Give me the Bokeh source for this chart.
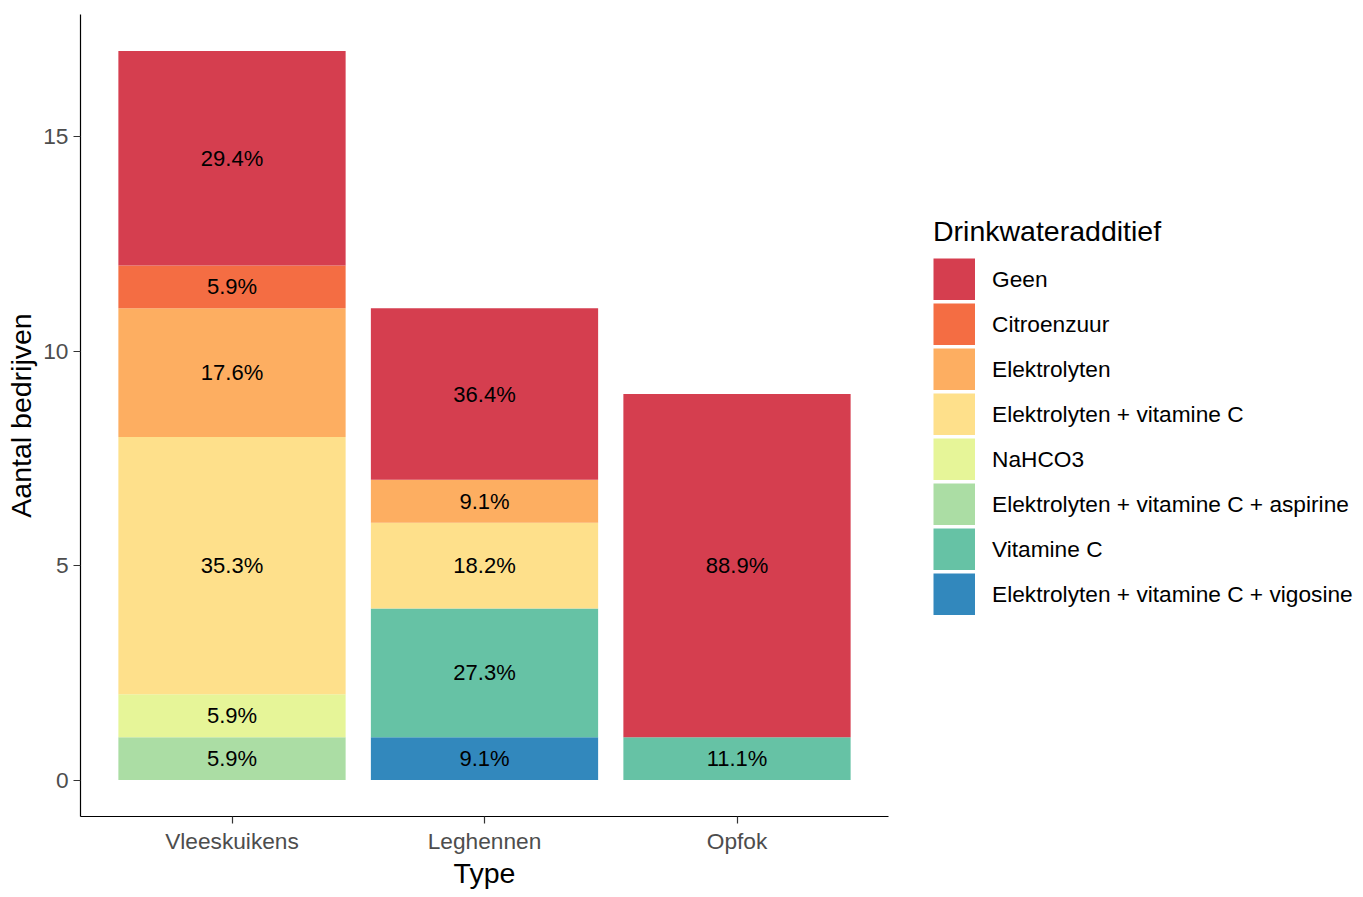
from bokeh.plotting import figure
from bokeh.models import (ColumnDataSource, FactorRange, Range1d, FixedTicker,
                          Legend, LegendItem)
from bokeh.core.properties import value
from bokeh.embed import file_html
from bokeh.resources import INLINE

# ---- data ----
categories = ["Vleeskuikens", "Leghennen", "Opfok"]
additives = ["Geen", "Citroenzuur", "Elektrolyten", "Elektrolyten + vitamine C",
             "NaHCO3", "Elektrolyten + vitamine C + aspirine", "Vitamine C",
             "Elektrolyten + vitamine C + vigosine"]
colors = ["#D53E4F", "#F46D43", "#FDAE61", "#FEE08B",
          "#E6F598", "#ABDDA4", "#66C2A5", "#3288BD"]
geen = [5, 4, 8]
citroenzuur = [1, 0, 0]
elektrolyten = [3, 1, 0]
elektrolyten_vitc = [6, 2, 0]
nahco3 = [1, 0, 0]
elektrolyten_vitc_aspirine = [1, 0, 0]
vitamine_c = [0, 3, 1]
elektrolyten_vitc_vigosine = [0, 1, 0]
y_ticks = [0, 5, 10, 15]

series = [geen, citroenzuur, elektrolyten, elektrolyten_vitc, nahco3,
          elektrolyten_vitc_aspirine, vitamine_c, elektrolyten_vitc_vigosine]
totals = [sum(s[i] for s in series) for i in range(len(categories))]

FONT = "Liberation Sans"
NAN = float("nan")

p = figure(x_range=FactorRange(*categories, range_padding=0.2 / 3),
           y_range=Range1d(-0.85, 17.85),
           frame_width=808, frame_height=802,
           min_border_left=80, min_border_right=459,
           min_border_top=14, min_border_bottom=65,
           output_backend="svg", toolbar_location=None,
           background_fill_color="white", border_fill_color="white")
p.outline_line_color = None
p.xgrid.visible = False
p.ygrid.visible = False

# stacked bars, bottom-up in reverse legend order
bottoms = [0] * len(categories)
legend_keys = {}
lx, ly, lt = [], [], []
for name, vals, col in reversed(list(zip(additives, series, colors))):
    xs, bs, ts = [], [], []
    for i, c in enumerate(categories):
        if vals[i] > 0:
            xs.append(c)
            bs.append(bottoms[i])
            ts.append(bottoms[i] + vals[i])
            lx.append(c)
            ly.append(bottoms[i] + vals[i] / 2)
            lt.append(f"{round(vals[i] / totals[i] * 100, 1):.1f}%")
            bottoms[i] += vals[i]
    src = ColumnDataSource(dict(x=xs, bottom=bs, top=ts))
    p.vbar(x="x", bottom="bottom", top="top", width=0.9, source=src,
           fill_color=col, line_color=None)
    # legend key only (NaN point, nothing drawn in the plot):
    # a very thick butt-capped line renders as a full filled square key
    key = p.line(x=[NAN], y=[NAN], line_color=col, line_width=42,
                 line_cap="butt")
    legend_keys[name] = key

lab = ColumnDataSource(dict(x=lx, y=ly, t=lt))
p.text(x="x", y="y", text="t", source=lab, text_align="center",
       text_baseline="middle", text_font=value(FONT),
       text_font_size="22px", text_color="black")

# axes
for ax in (p.xaxis[0], p.yaxis[0]):
    ax.axis_line_color = "black"
    ax.axis_line_width = 1.2
    ax.major_tick_line_color = "#333333"
    ax.major_tick_line_width = 1.2
    ax.major_tick_out = 7
    ax.major_tick_in = 0
    ax.minor_tick_line_color = None
    ax.major_label_text_font = FONT
    ax.major_label_text_font_size = "22.7px"
    ax.major_label_text_color = "#4D4D4D"
    ax.axis_label_text_font = FONT
    ax.axis_label_text_font_size = "28.5px"
    ax.axis_label_text_font_style = "normal"
    ax.axis_label_text_color = "black"

p.xaxis.axis_label = "Type"
p.yaxis.axis_label = "Aantal bedrijven"
p.yaxis.ticker = FixedTicker(ticks=y_ticks)
p.xaxis.major_label_standoff = 4
p.yaxis.major_label_standoff = 5
p.xaxis.axis_label_standoff = 0
p.yaxis.axis_label_standoff = 3

items = [LegendItem(label=n, renderers=[legend_keys[n]]) for n in additives]
legend = Legend(items=items, location="center_left", margin=45, padding=0,
                spacing=3, glyph_width=42, glyph_height=42, label_standoff=17,
                label_text_font=FONT, label_text_font_size="22.7px",
                label_text_color="black",
                title="Drinkwateradditief", title_text_font=FONT,
                title_text_font_size="28.5px", title_text_font_style="normal",
                title_text_color="black", title_standoff=10,
                border_line_color=None, background_fill_alpha=0)
p.add_layout(legend, "right")

open("out.html", "w").write(file_html(p, INLINE))
